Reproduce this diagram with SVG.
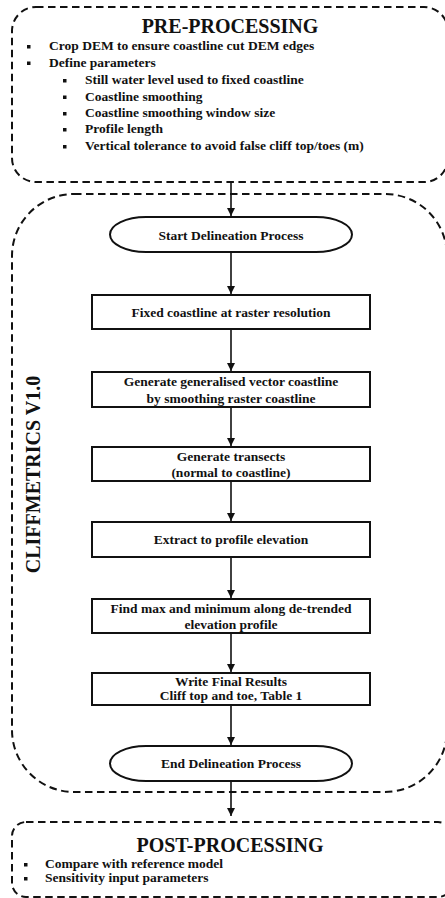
<svg xmlns="http://www.w3.org/2000/svg" width="445" height="898" viewBox="0 0 445 898">
<style>
.dash{fill:none;stroke:#111;stroke-width:2;stroke-dasharray:7.5,4.5}
.box{fill:#fff;stroke:#111;stroke-width:2}
.t{font-family:"Liberation Serif","Times New Roman",serif;font-weight:bold;fill:#111}
.n{font-size:13.5px;text-anchor:middle}
.h{font-size:20px;text-anchor:middle}
.b{font-size:13.5px}
.conn{stroke:#111;stroke-width:1.6;fill:none;marker-end:url(#ah)}
</style>
<defs>
<marker id="ah" viewBox="0 0 10 10" refX="10" refY="5" markerWidth="8" markerHeight="8" markerUnits="userSpaceOnUse" orient="auto">
<path d="M0,0 L10,5 L0,10 z" fill="#111"/>
</marker>
</defs>
<rect width="445" height="898" fill="#fff"/>

<g id="preprocessing">
<rect class="dash" x="12" y="7" width="436" height="175" rx="24" ry="24"/>
<text class="t h" x="230" y="33">PRE-PROCESSING</text>
<g fill="#111">
<rect x="27" y="45" width="3.5" height="3.5"/>
<rect x="27" y="61.5" width="3.5" height="3.5"/>
<rect x="63" y="79" width="3.5" height="3.5"/>
<rect x="63" y="95.5" width="3.5" height="3.5"/>
<rect x="63" y="112" width="3.5" height="3.5"/>
<rect x="63" y="128" width="3.5" height="3.5"/>
<rect x="63" y="145" width="3.5" height="3.5"/>
</g>
<text class="t b" x="49" y="50">Crop DEM to ensure coastline cut DEM edges</text>
<text class="t b" x="49" y="66.5">Define parameters</text>
<text class="t b" x="85" y="84">Still water level used to fixed coastline</text>
<text class="t b" x="85" y="100.5">Coastline smoothing</text>
<text class="t b" x="85" y="117">Coastline smoothing window size</text>
<text class="t b" x="85" y="133">Profile length</text>
<text class="t b" x="85" y="150">Vertical tolerance to avoid false cliff top/toes (m)</text>
</g>

<g id="cliffmetrics">
<rect class="dash" x="12" y="194" width="435" height="598" rx="62" ry="62"/>
<text class="t h" transform="translate(40,474.5) rotate(-90)">CLIFFMETRICS V1.0</text>
</g>

<g id="postprocessing">
<rect class="dash" x="12" y="822" width="440" height="75" rx="14" ry="14"/>
<text class="t h" x="230" y="852">POST-PROCESSING</text>
<rect x="24" y="863" width="3.5" height="3.5" fill="#111"/>
<rect x="24" y="877" width="3.5" height="3.5" fill="#111"/>
<text class="t b" x="45" y="868">Compare with reference model</text>
<text class="t b" x="45" y="882">Sensitivity input parameters</text>
</g>

<g id="connectors">
<line class="conn" x1="231" y1="182" x2="231" y2="216"/>
<line class="conn" x1="231" y1="253" x2="231" y2="294"/>
<line class="conn" x1="231" y1="330" x2="231" y2="371"/>
<line class="conn" x1="231" y1="408" x2="231" y2="446"/>
<line class="conn" x1="231" y1="482" x2="231" y2="521"/>
<line class="conn" x1="231" y1="558" x2="231" y2="598"/>
<line class="conn" x1="231" y1="634" x2="231" y2="672"/>
<line class="conn" x1="231" y1="706" x2="231" y2="745"/>
<line class="conn" x1="231" y1="782" x2="231" y2="816"/>
</g>

<g id="start">
<rect class="box" x="110" y="217" width="242" height="35" rx="36" ry="17.5"/>
<text class="t n" x="231" y="240">Start Delineation Process</text>
</g>
<g id="fixed">
<rect class="box" x="92" y="295" width="278" height="34"/>
<text class="t n" x="231" y="316.5">Fixed coastline at raster resolution</text>
</g>
<g id="generalise">
<rect class="box" x="92" y="372" width="278" height="35"/>
<text class="t n" x="231" y="386">Generate generalised vector coastline</text>
<text class="t n" x="231" y="402.5">by smoothing raster coastline</text>
</g>
<g id="transects">
<rect class="box" x="92" y="447" width="278" height="34"/>
<text class="t n" x="231" y="460.5">Generate transects</text>
<text class="t n" x="231" y="477">(normal to coastline)</text>
</g>
<g id="extract">
<rect class="box" x="92" y="522" width="278" height="35"/>
<text class="t n" x="231" y="544">Extract to profile elevation</text>
</g>
<g id="findmax">
<rect class="box" x="92" y="599" width="278" height="34"/>
<text class="t n" x="231" y="613">Find max and minimum along de-trended</text>
<text class="t n" x="231" y="629">elevation profile</text>
</g>
<g id="write">
<rect class="box" x="92" y="673" width="278" height="32"/>
<text class="t n" x="231" y="685.5">Write Final Results</text>
<text class="t n" x="231" y="700">Cliff top and toe, Table 1</text>
</g>
<g id="end">
<rect class="box" x="110" y="746" width="242" height="35" rx="36" ry="17.5"/>
<text class="t n" x="231" y="768">End Delineation Process</text>
</g>
</svg>
